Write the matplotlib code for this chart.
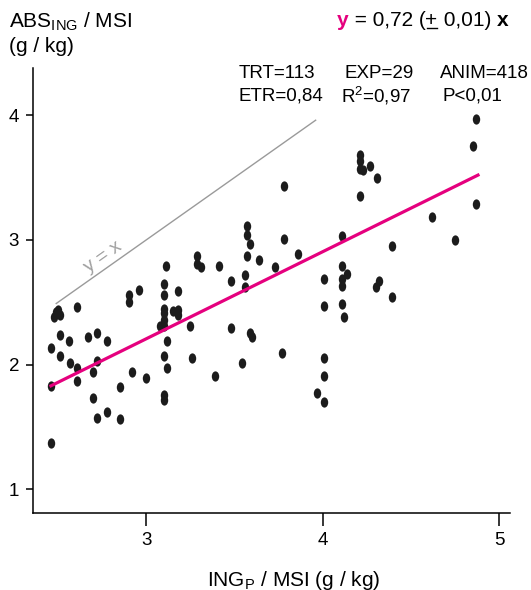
import numpy as np
from matplotlib import pyplot as plt
from matplotlib.path import Path
from matplotlib.transforms import Affine2D
from matplotlib.lines import Line2D

plt.rcParams['font.family'] = ['Liberation Sans', 'DejaVu Sans']

# points: ING_P/MSI vs ABS_ING/MSI
x_pts = [2.46, 2.46, 2.46, 2.48, 2.49, 2.50, 2.51, 2.51, 2.51, 2.56, 2.57, 2.61, 2.61, 2.61,
         2.67, 2.72, 2.72, 2.70, 2.70, 2.72, 2.78, 2.78, 2.85, 2.85, 2.90, 2.90, 2.96, 2.92,
         3.00, 3.10, 3.10, 3.10, 3.10, 3.10, 3.08, 3.10, 3.11, 3.12, 3.10, 3.12, 3.10, 3.10,
         3.15, 3.18, 3.18, 3.18, 3.25, 3.26, 3.29, 3.29, 3.31, 3.39, 3.41, 3.48, 3.48, 3.54,
         3.56, 3.56, 3.57, 3.57, 3.59, 3.57, 3.59, 3.60, 3.64, 3.73, 3.77, 3.78, 3.78, 3.86,
         3.97, 4.01, 4.01, 4.01, 4.01, 4.01, 4.11, 4.11, 4.14, 4.11, 4.11, 4.11, 4.12, 4.21,
         4.21, 4.21, 4.23, 4.27, 4.31, 4.21, 4.30, 4.32, 4.39, 4.39, 4.62, 4.75, 4.85, 4.87,
         4.87]
y_pts = [1.37, 1.83, 2.13, 2.38, 2.42, 2.44, 2.40, 2.24, 2.07, 2.19, 2.01, 2.46, 1.97, 1.87,
         2.22, 2.25, 2.03, 1.94, 1.73, 1.57, 2.19, 1.62, 1.82, 1.56, 2.56, 2.50, 2.60, 1.94,
         1.89, 2.65, 2.56, 2.45, 2.41, 2.36, 2.31, 2.31, 2.79, 2.19, 2.07, 1.97, 1.76, 1.72,
         2.43, 2.44, 2.40, 2.59, 2.31, 2.05, 2.87, 2.81, 2.78, 1.91, 2.79, 2.29, 2.67, 2.01,
         2.72, 2.62, 3.11, 3.04, 2.97, 2.87, 2.25, 2.22, 2.84, 2.78, 2.09, 3.43, 3.01, 2.89,
         1.77, 2.69, 2.47, 2.05, 1.91, 1.70, 3.03, 2.79, 2.73, 2.69, 2.63, 2.49, 2.38, 3.68,
         3.63, 3.57, 3.56, 3.59, 3.50, 3.35, 2.62, 2.67, 2.95, 2.54, 3.18, 3.00, 3.75, 3.97,
         3.29]

# regression line and identity line ends
reg_x = [2.46, 4.88]
reg_y = [1.83, 3.52]
id_x = [2.49, 3.96]

xticks = [3, 4, 5]
yticks = [1, 2, 3, 4]

fig = plt.figure(figsize=(5.31, 5.90), dpi=100)
ax = fig.add_axes([0.062, 0.1305, 0.898, 0.7545])
ax.set_xlim(2.358, 5.06)
ax.set_ylim(0.81, 4.38)

# elliptic dots, a bit taller than wide
ell = Path.unit_circle().transformed(Affine2D().scale(0.72, 1.0))
ax.plot(x_pts, y_pts, linestyle='none', marker=ell, markersize=7.4,
        color='#1c1c1c', markeredgewidth=0, zorder=3)

ax.plot(id_x, id_x, color='#9a9a9a', linewidth=1.0, zorder=2)
ax.plot(reg_x, reg_y, color='#e5007e', linewidth=2.3, zorder=4)

ax.text(2.755, 2.86, 'y = x', color='#a0a0a0', fontsize=14, rotation=35.3,
        ha='center', va='center', rotation_mode='anchor')

for s in ['top', 'right']:
    ax.spines[s].set_visible(False)
for s in ['left', 'bottom']:
    ax.spines[s].set_linewidth(1.1)
ax.set_xticks(xticks)
ax.set_yticks(yticks)
ax.tick_params(axis='x', length=9, width=1.1, pad=5, labelsize=13.5)
ax.tick_params(axis='y', length=5, width=1.1, pad=5, labelsize=13.5)

# axis titles
fig.text(9 / 531, 1 - 22 / 590, r'ABS$_{\mathregular{ING}}$ / MSI', fontsize=15,
         ha='left', va='center')
fig.text(9 / 531, 1 - 47 / 590, '(g / kg)', fontsize=15, ha='left', va='center')
fig.text(294 / 531, 1 - 580 / 590, r'ING$_{\mathregular{P}}$ / MSI (g / kg)', fontsize=15,
         ha='center', va='center')

# equation, built from pieces
t0 = fig.text(337 / 531, 1 - 21 / 590, 'y', color='#e5007e', fontweight='bold',
              fontsize=15, ha='left', va='center')
t1 = ax.annotate(' = 0,72 (', xy=(1, 0), xycoords=t0, fontsize=15, va='bottom')
t2 = ax.annotate('+', xy=(1, 0), xycoords=t1, fontsize=15, va='bottom')
t3 = ax.annotate(' 0,01) ', xy=(1, 0), xycoords=t2, fontsize=15, va='bottom')
t4 = ax.annotate('x', xy=(1, 0), xycoords=t3, fontsize=15, va='bottom', fontweight='bold')

# stats block
stats = [['TRT=113', 'EXP=29', 'ANIM=418'],
         ['ETR=0,84', r'R$^{\mathregular{2}}$=0,97', 'P<0,01']]
col_px = [[239, 345, 440], [239, 341, 442]]
row_px = [73, 96]
for r in range(2):
    for c in range(3):
        fig.text(col_px[r][c] / 531, 1 - row_px[r] / 590, stats[r][c], fontsize=13.5,
                 ha='left', va='center')

# underline under the plus sign
fig.canvas.draw()
bb = t2.get_window_extent().transformed(fig.transFigure.inverted())
fig.add_artist(Line2D([bb.x0 + 0.002, bb.x1 - 0.002], [bb.y0 + 0.004, bb.y0 + 0.004],
                      transform=fig.transFigure, color='black', linewidth=1.0))

fig.savefig('out.png', dpi=100)
